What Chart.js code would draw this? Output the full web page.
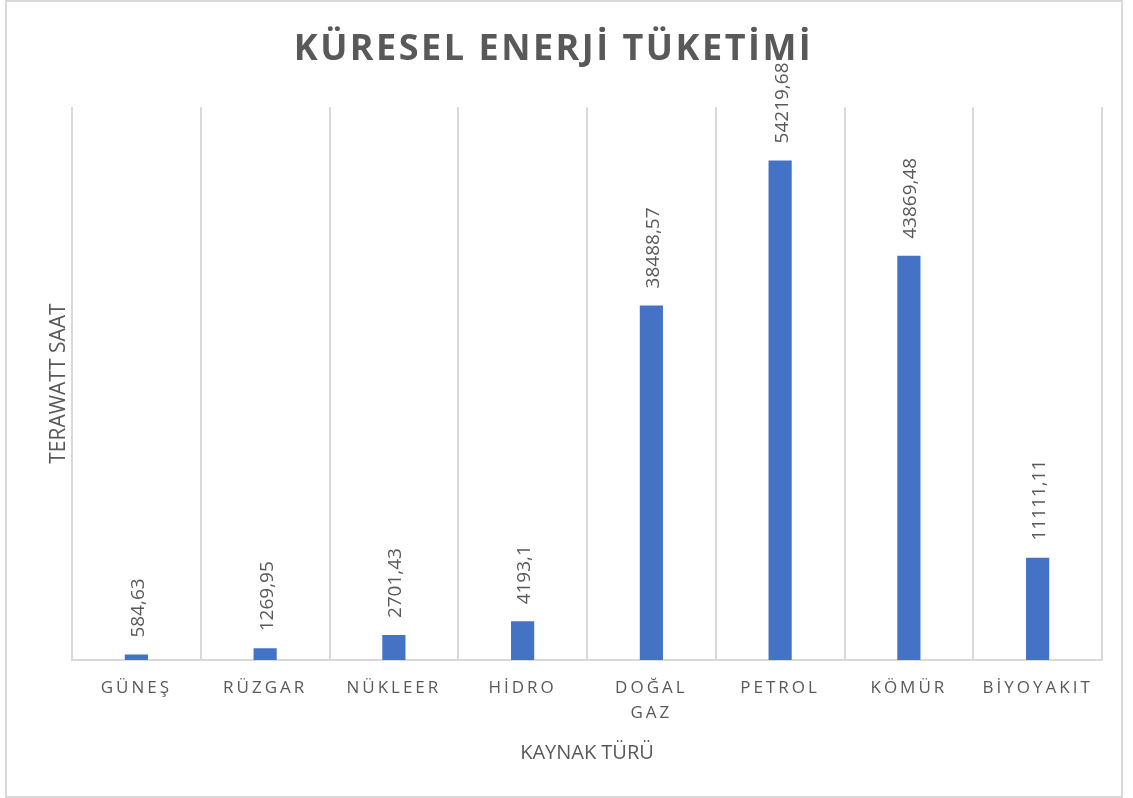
<!DOCTYPE html>
<html>
<head>
<meta charset="utf-8">
<script src="https://cdn.jsdelivr.net/npm/chart.js@4.4.1/dist/chart.umd.min.js"></script>
<style>
  html, body { margin: 0; padding: 0; background: #fff; }
  #wrap { width: 1133px; height: 798px; }
</style>
</head>
<body>
<div id="wrap"><canvas id="chart" width="1133" height="798"></canvas></div>
<script>
// data
const categories = ['GÜNEŞ', 'RÜZGAR', 'NÜKLEER', 'HİDRO', ['DOĞAL', 'GAZ'], 'PETROL', 'KÖMÜR', 'BİYOYAKIT'];
const consumption = [584.63, 1269.95, 2701.43, 4193.1, 38488.57, 54219.68, 43869.48, 11111.11];
const yMin = 0;
const yMax = 60000;

const grey = '#595959';
const lineGrey = '#d9d9d9';
const fontFamily = '"Open Sans", "DejaVu Sans", sans-serif';

// letter spacing for x labels and title, plus frame and value labels
const decorPlugin = {
  id: 'decor',
  beforeDraw(chart) {
    const ctx = chart.ctx;
    ctx.save();
    ctx.fillStyle = '#fff';
    ctx.fillRect(0, 0, chart.width, chart.height);
    ctx.strokeStyle = lineGrey;
    ctx.lineWidth = 2;
    ctx.strokeRect(6, 1, 1116, 796);
    ctx.restore();

    const x = chart.scales.x;
    if (x && !x._spaced) {
      const orig = x.drawLabels;
      x.drawLabels = function(area) {
        this.ctx.save();
        this.ctx.letterSpacing = '3px';
        orig.call(this, area);
        this.ctx.restore();
      };
      x._spaced = true;
    }
    const t = chart.titleBlock;
    if (t && !t._spaced) {
      const origT = t.draw;
      t.draw = function() {
        this.ctx.save();
        this.ctx.letterSpacing = '2.5px';
        origT.apply(this, arguments);
        this.ctx.restore();
      };
      t._spaced = true;
    }
  },
  afterDatasetsDraw(chart) {
    const ctx = chart.ctx;
    const meta = chart.getDatasetMeta(0);
    ctx.save();
    ctx.font = '19px ' + fontFamily;
    ctx.fillStyle = grey;
    ctx.textAlign = 'left';
    ctx.textBaseline = 'middle';
    meta.data.forEach((bar, i) => {
      const txt = String(consumption[i]).replace('.', ',');
      ctx.save();
      ctx.translate(bar.x + 2, bar.y - 17);
      ctx.rotate(-Math.PI / 2);
      ctx.fillText(txt, 0, 0);
      ctx.restore();
    });
    ctx.restore();
  }
};

new Chart(document.getElementById('chart'), {
  type: 'bar',
  data: {
    labels: categories,
    datasets: [{
      data: consumption,
      backgroundColor: '#4472C4',
      borderWidth: 0,
      categoryPercentage: 1,
      barPercentage: 0.18
    }]
  },
  options: {
    responsive: false,
    animation: false,
    layout: { padding: { left: 5, right: 31, top: 0, bottom: 0 } },
    plugins: {
      legend: { display: false },
      tooltip: { enabled: false },
      title: {
        display: true,
        text: 'KÜRESEL ENERJİ TÜKETİMİ',
        color: grey,
        font: { family: fontFamily, size: 36, weight: 'bold', lineHeight: 1.2 },
        padding: { top: 28, bottom: 36 }
      }
    },
    scales: {
      x: {
        grid: { display: true, color: lineGrey, lineWidth: 2, drawTicks: false, offset: true },
        border: { display: true, color: lineGrey, width: 2 },
        ticks: {
          color: grey,
          padding: 15,
          maxRotation: 0,
          autoSkip: false,
          font: { family: fontFamily, size: 17, lineHeight: 1.5 }
        },
        title: {
          display: true,
          text: 'KAYNAK TÜRÜ',
          color: grey,
          font: { family: fontFamily, size: 20, lineHeight: 1.2 },
          padding: { top: 0, bottom: 33 }
        },
        afterFit(scale) { scale.height = 138; }
      },
      y: {
        min: yMin,
        max: yMax,
        grid: { display: false },
        border: { display: false },
        ticks: { display: false },
        title: {
          display: true,
          text: 'TERAWATT SAAT',
          color: grey,
          font: { family: fontFamily, size: 21, lineHeight: 1.2 },
          padding: { top: 41, bottom: 20 }
        },
        afterFit(scale) { scale.width = 67; }
      }
    }
  },
  plugins: [decorPlugin]
});
</script>
</body>
</html>
